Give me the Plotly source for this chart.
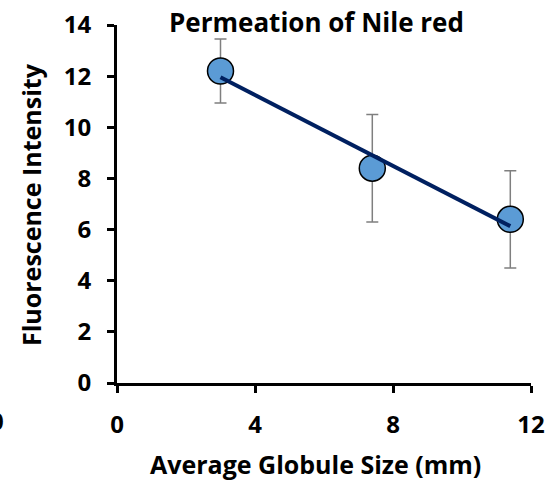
import numpy as np
import plotly.graph_objects as go

# Data
globule_size = [3.0, 7.4, 11.4]          # Average Globule Size (mm)
fluorescence = [12.2, 8.4, 6.4]          # Fluorescence Intensity
fluor_err = [1.25, 2.1, 1.9]             # error bar half-widths
x_ticks = [0, 4, 8, 12]
y_ticks = [0, 2, 4, 6, 8, 10, 12, 14]

# linear trendline through the data
slope, intercept = np.polyfit(globule_size, fluorescence, 1)
trend_x = [min(globule_size), max(globule_size)]
trend_y = [slope * v + intercept for v in trend_x]

FONT = "Open Sans"
W, H = 551, 487
L, R, T, B = 117, 20, 25, 104
PW, PH = W - L - R, H - T - B


def px(xp):
    return (xp - L) / PW


def py(yp):
    return (H - B - yp) / PH


fig = go.Figure()
fig.add_trace(go.Scatter(
    x=globule_size, y=fluorescence, mode="markers",
    marker=dict(size=26, color="#5B9BD5", line=dict(color="black", width=1.5)),
    error_y=dict(type="data", array=fluor_err, visible=True,
                 color="#7F7F7F", thickness=1.5, width=6),
    showlegend=False, cliponaxis=False,
))
fig.add_trace(go.Scatter(
    x=trend_x, y=trend_y, mode="lines",
    line=dict(color="#002060", width=4),
    showlegend=False, cliponaxis=False,
))

axis_common = dict(
    showgrid=False, zeroline=False, showline=True, linecolor="black", linewidth=3,
    ticks="outside", ticklen=7, tickwidth=3, tickcolor="black", automargin=False,
    ticklabelstandoff=11,
    tickfont=dict(family=FONT, size=24, color="black", weight="bold"),
)
fig.update_xaxes(range=[0, 12], tickvals=x_ticks, **axis_common)
fig.update_yaxes(range=[0, 14], tickvals=y_ticks, **axis_common)

fig.update_layout(
    width=W, height=H,
    margin=dict(l=L, r=R, t=T, b=B, autoexpand=False),
    plot_bgcolor="white", paper_bgcolor="white",
)

fig.add_annotation(text="<b>Permeation of Nile red</b>", xref="paper", yref="paper",
                   x=px(316.5), y=py(22), xanchor="center", yanchor="middle",
                   showarrow=False, font=dict(family=FONT, size=26, color="black"))
fig.add_annotation(text="<b>Average Globule Size (mm)</b>", xref="paper", yref="paper",
                   x=px(315), y=py(464), xanchor="center", yanchor="middle",
                   showarrow=False, font=dict(family=FONT, size=25, color="black"))
fig.add_annotation(text="<b>Fluorescence Intensity</b>", xref="paper", yref="paper",
                   x=px(31), y=py(205), xanchor="center", yanchor="middle",
                   textangle=-90, showarrow=False,
                   font=dict(family=FONT, size=25, color="black"))
# clipped tick label fragment at the far left edge of the reference image
fig.add_annotation(text="<b>0</b>", xref="paper", yref="paper",
                   x=px(6), y=py(420), xanchor="right", yanchor="middle",
                   showarrow=False, font=dict(family=FONT, size=24, color="black"))

fig.write_html("out.html", config={"displayModeBar": False},
               post_script="document.body.style.margin='0';")
